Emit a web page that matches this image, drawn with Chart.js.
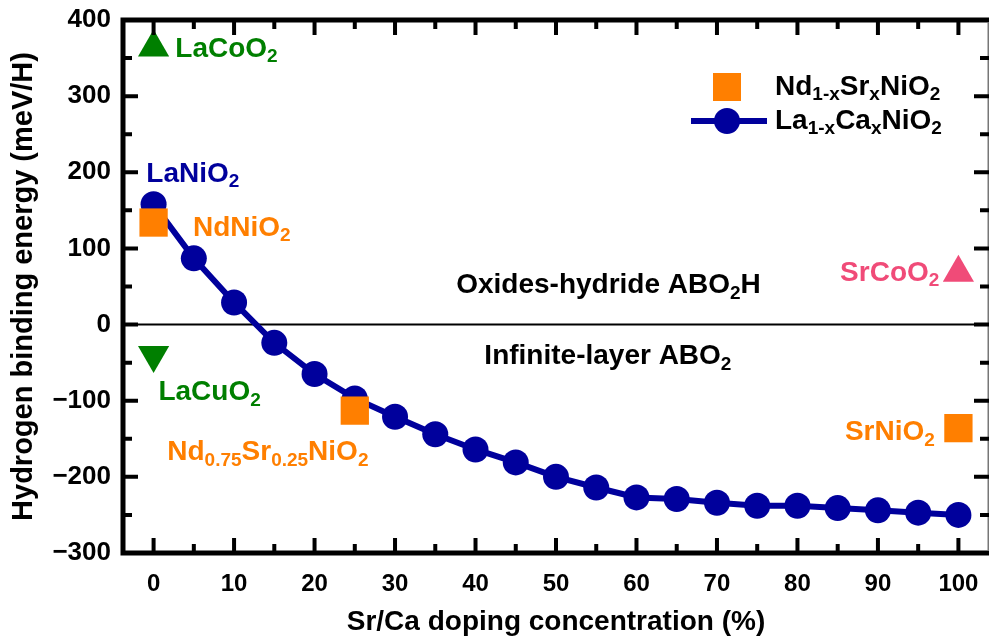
<!DOCTYPE html>
<html>
<head>
<meta charset="utf-8">
<script src="https://cdn.jsdelivr.net/npm/chart.js@4.4.0/dist/chart.umd.min.js"></script>
<style>
html,body{margin:0;padding:0;background:#fff}
#wrap{width:990px;height:639px}
</style>
</head>
<body>
<div id="wrap"><canvas id="myChart" width="990" height="639"></canvas></div>
<script>
// La(1-x)Ca(x)NiO2 curve
const caDoping = [0,5,10,15,20,25,30,35,40,45,50,55,60,65,70,75,80,85,90,95,100];
const caEnergy = [158,87,29,-24,-65,-97,-121,-144,-164,-181,-200,-214,-227,-229,-234,-238,-238,-241,-244,-247,-250];
// Nd(1-x)Sr(x)NiO2 points
const srDoping = [0,25,100];
const srEnergy = [134,-113,-136];
// single compounds
const laCoO2 = [0,364];
const laCuO2 = [0,-40];
const srCoO2 = [100,68];
const xTicks = [0,10,20,30,40,50,60,70,80,90,100];
const yTicks = [-300,-200,-100,0,100,200,300,400];

const BLUE = '#00009c', ORANGE = '#ff7f00', GREEN = '#007f00', PINK = '#f04b78';
const MAIN = 'bold 28px "Liberation Sans", Arial, sans-serif';
const SUB = 'bold 19px "Liberation Sans", Arial, sans-serif';

function pts(xs, ys){ return xs.map((x,i)=>({x:x, y:ys[i]})); }

// text pieces: [text, isSub]
const notes = [
  {x:2.7, y:362, color:GREEN, parts:[['LaCoO',0],['2',1]]},
  {x:-0.9, y:198, color:BLUE, parts:[['LaNiO',0],['2',1]]},
  {x:4.9, y:127, color:ORANGE, parts:[['NdNiO',0],['2',1]]},
  {x:37.6, y:51, color:'#000', parts:[['Oxides-hydride ABO',0],['2',1],['H',0]]},
  {x:41.1, y:-42, color:'#000', parts:[['Infinite-layer ABO',0],['2',1]]},
  {x:0.6, y:-89, color:GREEN, parts:[['LaCuO',0],['2',1]]},
  {x:1.7, y:-168, color:ORANGE, parts:[['Nd',0],['0.75',1],['Sr',0],['0.25',1],['NiO',0],['2',1]]},
  {x:85.3, y:68, color:PINK, parts:[['SrCoO',0],['2',1]]},
  {x:85.9, y:-142, color:ORANGE, parts:[['SrNiO',0],['2',1]]}
];

function drawParts(ctx, parts, x, y){
  ctx.textBaseline = 'middle';
  ctx.textAlign = 'left';
  parts.forEach(p => {
    ctx.font = p[1] ? SUB : MAIN;
    ctx.fillText(p[0], x, p[1] ? y + 8 : y);
    x += ctx.measureText(p[0]).width;
  });
}

const decor = {
  id: 'decor',
  beforeDatasetsDraw(chart){
    const ctx = chart.ctx, ys = chart.scales.y, a = chart.chartArea;
    ctx.save();
    // zero line
    ctx.strokeStyle = '#000';
    ctx.lineWidth = 2;
    ctx.beginPath();
    ctx.moveTo(a.left, ys.getPixelForValue(0));
    ctx.lineTo(a.right, ys.getPixelForValue(0));
    ctx.stroke();
    ctx.restore();
  },
  afterDatasetsDraw(chart){
    const ctx = chart.ctx, xs = chart.scales.x, ys = chart.scales.y, a = chart.chartArea;
    ctx.save();
    // frame
    ctx.strokeStyle = '#000';
    ctx.lineWidth = 5;
    ctx.beginPath();
    ctx.moveTo(a.left, a.top); ctx.lineTo(a.left, a.bottom); ctx.lineTo(a.right, a.bottom);
    ctx.moveTo(a.left - 2.5, a.top); ctx.lineTo(a.right, a.top);
    ctx.stroke();
    ctx.lineWidth = 1.5;
    ctx.strokeStyle = '#777';
    ctx.beginPath();
    ctx.moveTo(a.right - 0.75, a.top); ctx.lineTo(a.right - 0.75, a.bottom);
    ctx.stroke();
    // inward ticks
    ctx.strokeStyle = '#000';
    ctx.lineWidth = 4;
    ctx.beginPath();
    for (let v = 0; v <= 100; v += 5) {
      const px = xs.getPixelForValue(v), len = v % 10 === 0 ? 15 : 9;
      ctx.moveTo(px, a.bottom); ctx.lineTo(px, a.bottom - len);
      ctx.moveTo(px, a.top); ctx.lineTo(px, a.top + len);
    }
    for (let v = -300; v <= 400; v += 50) {
      const py = ys.getPixelForValue(v), len = v % 100 === 0 ? 15 : 9;
      ctx.moveTo(a.left, py); ctx.lineTo(a.left + len, py);
      ctx.moveTo(a.right, py); ctx.lineTo(a.right - len, py);
    }
    ctx.stroke();
    // annotations
    notes.forEach(n => {
      ctx.fillStyle = n.color;
      drawParts(ctx, n.parts, xs.getPixelForValue(n.x), ys.getPixelForValue(n.y));
    });
    // legend
    const lx = a.left + 604, ly1 = 87, ly2 = 121;
    ctx.fillStyle = ORANGE;
    ctx.fillRect(lx - 14, ly1 - 14, 28, 28);
    ctx.strokeStyle = BLUE;
    ctx.lineWidth = 6;
    ctx.beginPath();
    ctx.moveTo(lx - 36, ly2); ctx.lineTo(lx + 40, ly2);
    ctx.stroke();
    ctx.fillStyle = BLUE;
    ctx.beginPath();
    ctx.arc(lx, ly2, 13, 0, Math.PI * 2);
    ctx.fill();
    ctx.fillStyle = '#000';
    drawParts(ctx, [['Nd',0],['1-x',1],['Sr',0],['x',1],['NiO',0],['2',1]], lx + 48, ly1);
    drawParts(ctx, [['La',0],['1-x',1],['Ca',0],['x',1],['NiO',0],['2',1]], lx + 48, ly2);
    ctx.restore();
  }
};

const ctx = document.getElementById('myChart').getContext('2d');
const myChart = new Chart(ctx, {
  type: 'scatter',
  data: {
    datasets: [
      {
        label: 'La1-xCaxNiO2',
        data: pts(caDoping, caEnergy),
        showLine: true,
        borderColor: BLUE,
        backgroundColor: BLUE,
        borderWidth: 6,
        pointRadius: 13,
        pointBorderWidth: 0,
        pointStyle: 'circle',
        order: 2
      },
      {
        label: 'Nd1-xSrxNiO2',
        data: pts(srDoping, srEnergy),
        backgroundColor: ORANGE,
        borderWidth: 0,
        pointRadius: 20,
        pointStyle: 'rect',
        order: 1
      },
      {
        label: 'LaCoO2',
        data: [{x: laCoO2[0], y: laCoO2[1]}],
        backgroundColor: GREEN,
        borderWidth: 0,
        pointRadius: 18,
        pointStyle: 'triangle',
        order: 1
      },
      {
        label: 'LaCuO2',
        data: [{x: laCuO2[0], y: laCuO2[1]}],
        backgroundColor: GREEN,
        borderWidth: 0,
        pointRadius: 18,
        pointStyle: 'triangle',
        rotation: 180,
        order: 1
      },
      {
        label: 'SrCoO2',
        data: [{x: srCoO2[0], y: srCoO2[1]}],
        backgroundColor: PINK,
        borderWidth: 0,
        pointRadius: 18,
        pointStyle: 'triangle',
        order: 1
      }
    ]
  },
  options: {
    responsive: false,
    animation: false,
    events: [],
    layout: { autoPadding: false, padding: { top: 20, right: 1, left: 0, bottom: 0 } },
    plugins: { legend: { display: false }, tooltip: { enabled: false } },
    scales: {
      x: {
        type: 'linear',
        min: -3.8,
        max: 103.8,
        afterBuildTicks(scale){ scale.ticks = xTicks.map(v => ({value: v})); },
        afterFit(scale){
          scale.height = 86;
          scale.paddingLeft = 0; scale.paddingRight = 0;
        },
        grid: { display: false, drawTicks: false },
        border: { display: false },
        ticks: {
          padding: 17,
          color: '#000',
          maxRotation: 0,
          font: { family: '"Liberation Sans Narrow", "Liberation Sans", Arial', weight: 'bold', size: 24 }
        },
        title: {
          display: true,
          text: 'Sr/Ca doping concentration (%)',
          color: '#000',
          padding: { top: 6, bottom: 0 },
          font: { family: '"Liberation Sans Narrow", "Liberation Sans", Arial', weight: 'bold', size: 28 }
        }
      },
      y: {
        type: 'linear',
        min: -300,
        max: 400,
        afterBuildTicks(scale){ scale.ticks = yTicks.map(v => ({value: v})); },
        afterFit(scale){
          scale.width = 123;
          scale.paddingTop = 0; scale.paddingBottom = 0;
        },
        grid: { display: false, drawTicks: false },
        border: { display: false },
        ticks: {
          padding: 12,
          color: '#000',
          font: { family: '"Liberation Sans", Arial', weight: 'bold', size: 26 },
          callback: v => String(v).replace('-', '\u2212')
        },
        title: {
          display: true,
          text: 'Hydrogen binding energy (meV/H)',
          color: '#000',
          padding: { top: 7, bottom: 0 },
          font: { family: '"Liberation Sans", Arial', weight: 'bold', size: 29 }
        }
      }
    }
  },
  plugins: [decor]
});
</script>
</body>
</html>
